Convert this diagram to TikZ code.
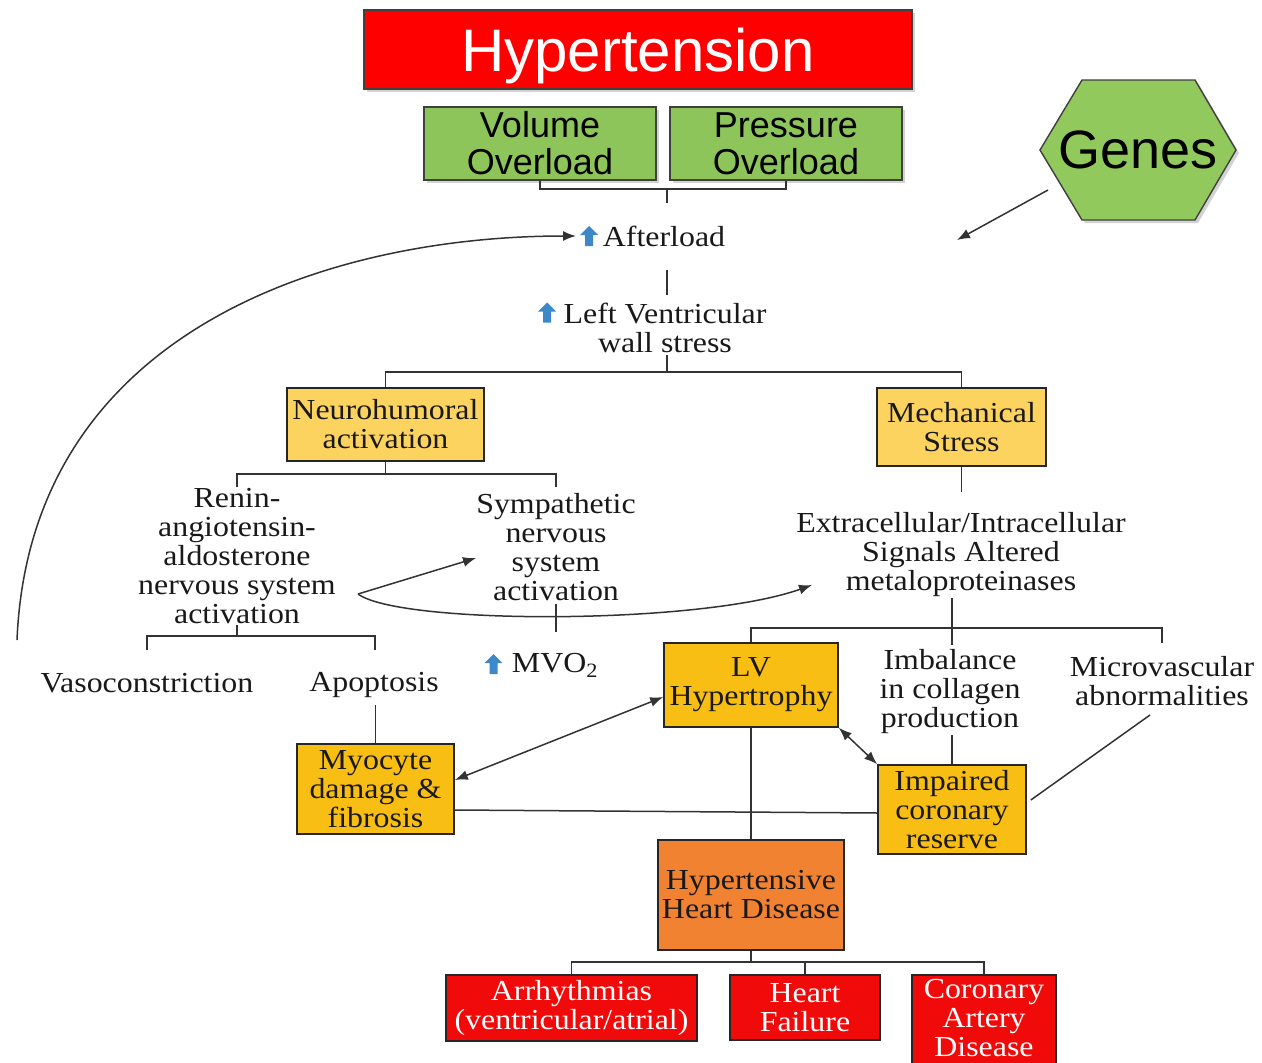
\documentclass[tikz,border=0pt]{standalone}
\usepackage{fontspec}
\setmainfont[FakeStretch=1.1]{Liberation Serif}
\newfontfamily\headsans{Liberation Sans}
\usetikzlibrary{arrows.meta,shadows}

\definecolor{hypred}{HTML}{FF0000}
\definecolor{outred}{HTML}{F00A0A}
\definecolor{leafgreen}{HTML}{8DC55A}
\definecolor{genegreen}{HTML}{92C95C}
\definecolor{paleamber}{HTML}{FDD35F}
\definecolor{amber}{HTML}{F9BE14}
\definecolor{hhdorange}{HTML}{F08232}
\definecolor{upblue}{HTML}{3C88C8}

\begin{document}
\begin{tikzpicture}[x=1pt,y=-1pt,
  conn/.style={draw=black!80, line width=1.5pt},
  arr/.style={conn, -{Latex[length=13pt,width=10pt]}},
  dblarr/.style={conn, {Latex[length=13pt,width=10pt]}-{Latex[length=13pt,width=10pt]}},
  lbl/.style={font=\fontsize{29}{29}\selectfont, align=center, inner sep=0pt, text=black!90},
  box/.style={lbl, draw=black!85, line width=1.6pt},
  sbox/.style={draw=black!75, line width=1.6pt, align=center, inner sep=0pt,
    drop shadow={shadow xshift=3pt, shadow yshift=-3pt, opacity=0.35}},
  uparr/.pic={\fill[upblue] (0,-10) -- (9,-1) -- (4,-1) -- (4,10) -- (-4,10) -- (-4,-1) -- (-9,-1) -- cycle;}
]
\path[use as bounding box] (0,0) rectangle (1262,1063);
\clip (0,0) rectangle (1262,1063);
\fill[white] (0,0) rectangle (1262,1063);

% ---------- top: cause and load ----------
\node[sbox, fill=hypred, text=white, minimum width=548pt, minimum height=79pt, text depth=0pt,
      font=\headsans\fontsize{60}{60}\selectfont] (hyp) at (638,49.5) {Hypertension};
\node[sbox, fill=leafgreen, minimum width=232pt, minimum height=73pt,
      font=\headsans\fontsize{36}{37}\selectfont] (vol) at (540,143.5) {Volume\\Overload};
\node[sbox, fill=leafgreen, minimum width=232pt, minimum height=73pt,
      font=\headsans\fontsize{36}{37}\selectfont] (pres) at (786,143.5) {Pressure\\Overload};

% Genes hexagon
\filldraw[fill=genegreen, draw=black!75, line width=1.4pt,
  drop shadow={shadow xshift=3pt, shadow yshift=-3pt, opacity=0.35}]
  (1040,150) -- (1082,80) -- (1195,80) -- (1236,150) -- (1195,220) -- (1082,220) -- cycle;
\node[font=\headsans\fontsize{54}{54}\selectfont, inner sep=0pt] (genes) at (1138,150) {Genes};
\coordinate (gstart) at (1048,190);
\coordinate (gend) at (957,240);
\draw[arr] (gstart) -- (gend);

% ---------- afterload and wall stress ----------
\node[lbl] (after) at (664,236) {Afterload};
\pic at (589,236) {uparr};
\node[lbl] (lvws) at (665,328) {Left Ventricular\\wall stress};
\pic at (547,312.5) {uparr};

\coordinate (j0) at (667,188);
\coordinate (j1) at (667,203);
\coordinate (j2) at (667,270);
\coordinate (j3) at (667,295);
\coordinate (j4) at (667,355);
\coordinate (j5) at (667,372);
\draw[conn] (vol.south) -- ++(0,8) -| (pres.south);
\draw[conn] (j0) -- (j1);
\draw[conn] (j2) -- (j3);
\draw[conn] (j4) -- (j5);

% ---------- two branches ----------
\node[box, fill=paleamber, minimum width=197pt, minimum height=73pt] (neuro) at (385.5,424.5) {Neurohumoral\\activation};
\node[box, fill=paleamber, minimum width=169pt, minimum height=78pt] (mech) at (961.5,427) {Mechanical\\Stress};
\draw[conn] (neuro.north) |- (j5) -| (mech.north);

% neurohumoral side
\node[lbl] (renin) at (237,556) {Renin-\\angiotensin-\\aldosterone\\nervous system\\activation};
\node[lbl] (symp) at (556,547) {Sympathetic\\nervous\\system\\activation};
\coordinate (n0) at (385.5,474);
\coordinate (n1) at (237,487);
\coordinate (n2) at (556,487);
\draw[conn] (neuro.south) -- (n0);
\draw[conn] (n1) -- ++(0,-13) -| (n2);

\node[lbl] (vaso) at (147,683) {Vasoconstriction};
\node[lbl] (apop) at (374,685) {Apoptosis};
\coordinate (r0) at (237,625);
\coordinate (r1) at (237,636);
\coordinate (v0) at (147,650);
\coordinate (a0) at (375,650);
\draw[conn] (r0) -- (r1);
\draw[conn] (v0) |- (r1) -| (a0);

\node[lbl] (mvo) at (555,665) {MVO\textsubscript{2}};
\pic at (493.5,664) {uparr};
\coordinate (s0) at (556,604);
\coordinate (s1) at (556,632);
\draw[conn] (s0) -- (s1);

\node[box, fill=amber, minimum width=157pt, minimum height=90pt] (myo) at (375.5,789) {Myocyte\\damage \&\\fibrosis};
\coordinate (p0) at (375.5,705);
\draw[conn] (p0) -- (myo.north);

% renin feeds sympathetic and signalling
\coordinate (rstart) at (358,594);
\coordinate (xend) at (812,585);
\draw[arr] (rstart) -- ([yshift=-11pt]symp.west);
\draw[arr] (rstart) .. controls (400,625) and (700,625) .. (xend);

% feedback to afterload
\coordinate (vstart) at (17,640);
\draw[arr] (vstart) .. controls (30,330) and (330,236) .. (576,236);

% ---------- mechanical side ----------
\node[lbl] (extra) at (961,555) {Extracellular/Intracellular\\Signals Altered\\metaloproteinases};
\coordinate (m0) at (961.5,492);
\draw[conn] (mech.south) -- (m0);

\node[box, fill=amber, minimum width=174pt, minimum height=84pt] (lvh) at (751,685) {LV\\Hypertrophy};
\node[lbl] (imbal) at (950,692) {Imbalance\\in collagen\\production};
\node[lbl] (micro) at (1162,681) {Microvascular\\abnormalities};
\coordinate (e0) at (952,598);
\coordinate (e1) at (952,628);
\coordinate (e2) at (952,645);
\coordinate (e3) at (1162,643);
\draw[conn] (e0) -- (e1);
\draw[conn] (lvh.north) |- (e1) -| (e3);
\draw[conn] (e1) -- (e2);

\node[box, fill=amber, minimum width=148pt, minimum height=89pt] (imp) at (952,809.5) {Impaired\\coronary\\reserve};
\coordinate (i0) at (952,735);
\draw[conn] (i0) -- (imp.north);
\coordinate (mstart) at (1150,715);
\draw[conn] (mstart) -- ([xshift=4pt,yshift=9.5pt]imp.east);

\draw[dblarr] ([yshift=9pt]myo.east) -- ([yshift=-12pt]lvh.west);
\draw[dblarr] (lvh.south east) -- (imp.north west);
\draw[conn] ([yshift=-21pt]myo.east) -- ([yshift=-3.5pt]imp.west);

% ---------- outcome ----------
\node[box, fill=hhdorange, minimum width=186pt, minimum height=110pt] (hhd) at (751,895) {Hypertensive\\Heart Disease};
\draw[conn] (lvh.south) -- (hhd.north);

\node[box, fill=outred, text=white, minimum width=251pt, minimum height=66pt] (arrh) at (571.5,1008) {Arrhythmias\\(ventricular/atrial)};
\node[box, fill=outred, text=white, minimum width=150pt, minimum height=65pt] (hf) at (805,1007.5) {Heart\\Failure};
\node[box, fill=outred, text=white, minimum width=144pt, minimum height=93pt, text depth=7pt] (cad) at (984,1021.5) {Coronary\\Artery\\Disease};
\coordinate (h0) at (751,962);
\draw[conn] (hhd.south) -- (h0);
\draw[conn] (arrh.north) |- (h0) -| (cad.north);
\draw[conn] (h0 -| hf.north) -- (hf.north);
\end{tikzpicture}
\end{document}
